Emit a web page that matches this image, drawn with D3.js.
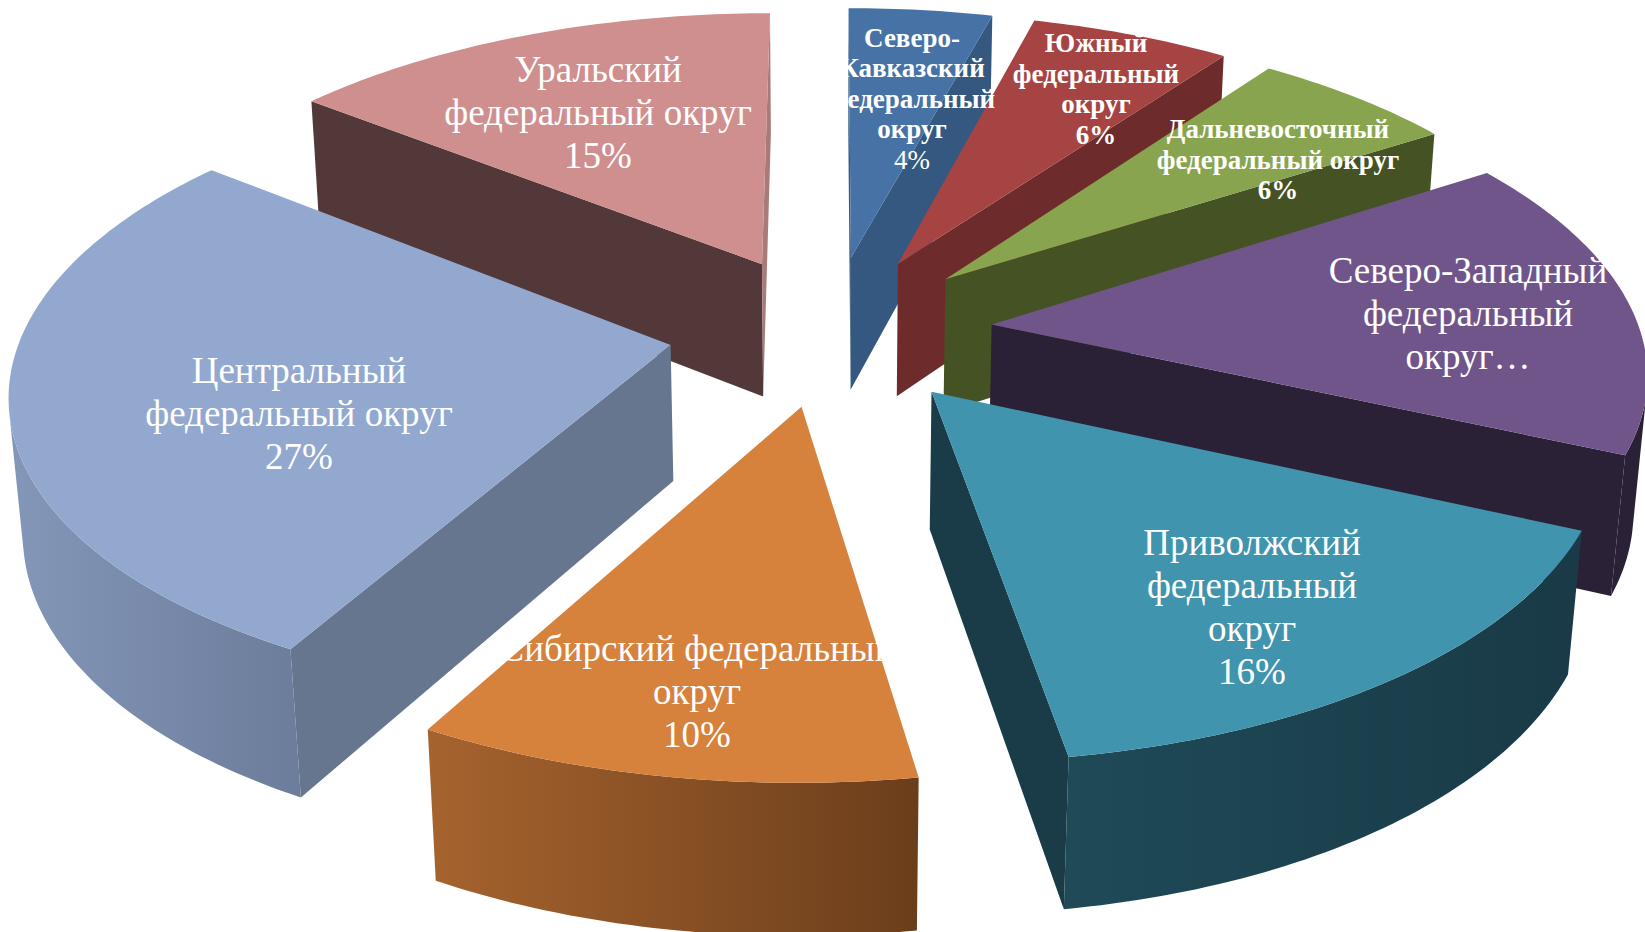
<!DOCTYPE html>
<html>
<head>
<meta charset="utf-8">
<script src="https://cdn.jsdelivr.net/npm/d3@7"></script>
<style>
  html, body { margin: 0; padding: 0; background: #fff; overflow: hidden; }
  svg { display: block; }
  text { font-family: "Liberation Serif", serif; fill: #fff; text-anchor: middle; }
</style>
</head>
<body>
<svg id="chart" width="1645" height="932"></svg>
<script>
var districts = ["Северо-Кавказский", "Южный", "Дальневосточный", "Северо-Западный", "Приволжский", "Сибирский", "Центральный", "Уральский"];
var shares = [4.16, 5.79, 5.95, 15.85, 15.75, 10.53, 27.62, 14.35];
var labelLines = [
    ["Северо-", "Кавказский", "федеральный", "округ", "4%"],
    ["Южный", "федеральный", "округ", "6%"],
    ["Дальневосточный", "федеральный округ", "6%"],
    ["Северо-Западный", "федеральный", "округ…"],
    ["Приволжский", "федеральный", "округ", "16%"],
    ["Сибирский федеральный", "округ", "10%"],
    ["Центральный", "федеральный округ", "27%"],
    ["Уральский", "федеральный округ", "15%"]
];

// Colours per slice
var topColors  = ["#4672a6", "#a64443", "#89a44e", "#70558b", "#4094ad", "#d6813c", "#93a8cf", "#cf8f8e"];
var sideColors = ["#34587f", "#6d2c2b", "#455223", "#2b2137", "#1a3c48", "#6b3e1b", "#66768f", "#533839"];
var endColors  = ["#34587f", "#6d2c2b", "#455223", "#2b2137", "#1a3c48", "#6b3e1b", "#66768f", "#a87a79"];
var wallLeft   = ["#34587f", "#6d2c2b", "#455223", "#2b2137", "#1f4a58", "#a6632e", "#8497b8", "#a87a79"];
var wallRight  = ["#34587f", "#6d2c2b", "#455223", "#2b2137", "#193a46", "#6b3e1b", "#6c7c9b", "#a87a79"];

// Label centre, font size and weight
var labelPlace = [
    {x: 912, y: 99, size: 27, bold: true},
    {x: 1096, y: 89, size: 27, bold: true},
    {x: 1278, y: 160, size: 27, bold: true},
    {x: 1468, y: 314, size: 37},
    {x: 1252, y: 607, size: 37},
    {x: 697, y: 692, size: 37},
    {x: 299, y: 414, size: 37},
    {x: 598, y: 113, size: 37}
];

// Camera for the tilted pie
var cx = 830.5, cy = 330,
    dist = 6.5,
    focal = 648 * dist,
    tilt = 27.75 * Math.PI / 180,
    thick = 0.24,
    explode = 0.25;

function project(X, Y, Z) {
    var w = dist - Y * Math.cos(tilt) + Z * Math.sin(tilt);
    var v = Y * Math.sin(tilt) + Z * Math.cos(tilt);
    return [cx + focal * X / w, cy + focal * v / w];
}

function area(points) {
    var s = 0;
    points.forEach(function(p, i) {
        var q = points[(i + 1) % points.length];
        s += p[0] * q[1] - q[0] * p[1];
    });
    return s;
}

var pie = d3.pie().sort(null).value(function(d) { return d; });
var line = d3.line().curve(d3.curveLinearClosed);
var svg = d3.select("#chart");
var defs = svg.append("defs");

var arcs = pie(shares);
arcs.forEach(function(d, i) {
    d.colorIndex = i;
    d.mid = (d.startAngle + d.endAngle) / 2;
});
// far slices first so the nearer ones cover them
arcs.sort(function(a, b) { return d3.ascending(-Math.cos(a.mid), -Math.cos(b.mid)); });

var layers = svg.selectAll("g.slice").data(arcs).enter().append("g").attr("class", "slice");

layers.each(function(d) {
    var g = d3.select(this);
    var i = d.colorIndex;
    var ox = explode * Math.sin(d.mid), oy = -explode * Math.cos(d.mid);
    var rim = function(a, z) { return project(ox + Math.sin(a), oy - Math.cos(a), z); };
    var apex = function(z) { return project(ox, oy, z); };

    var steps = Math.max(12, Math.round((d.endAngle - d.startAngle) * 60));
    var angles = d3.range(steps + 1).map(function(k) { return d.startAngle + (d.endAngle - d.startAngle) * k / steps; });

    // radial walls, only the ones facing the viewer
    var startWall = [apex(0), rim(d.startAngle, 0), rim(d.startAngle, thick), apex(thick)];
    var endWall = [rim(d.endAngle, 0), apex(0), apex(thick), rim(d.endAngle, thick)];
    if (area(startWall) < 0) g.append("path").attr("d", line(startWall)).attr("fill", sideColors[i]);
    if (area(endWall) < 0) g.append("path").attr("d", line(endWall)).attr("fill", endColors[i]);

    // outer wall: the part of the rim that faces the viewer, one path with a left to right gradient
    var visible = d3.pairs(angles).filter(function(p) {
        return area([rim(p[0], 0), rim(p[1], 0), rim(p[1], thick), rim(p[0], thick)]) < 0;
    });
    if (visible.length) {
        var from = visible.map(function(p) { return p[0]; }).concat(visible[visible.length - 1][1]);
        var wall = from.map(function(a) { return rim(a, 0); })
            .concat(from.slice().reverse().map(function(a) { return rim(a, thick); }));
        var xr = d3.extent(wall, function(p) { return p[0]; });
        var grad = defs.append("linearGradient").attr("id", "wall" + i)
            .attr("gradientUnits", "userSpaceOnUse")
            .attr("x1", xr[0]).attr("x2", xr[1]).attr("y1", 0).attr("y2", 0);
        grad.append("stop").attr("offset", 0).attr("stop-color", wallLeft[i]);
        grad.append("stop").attr("offset", 1).attr("stop-color", wallRight[i]);
        g.append("path").attr("d", line(wall)).attr("fill", "url(#wall" + i + ")");
    }

    var top = [apex(0)].concat(angles.map(function(a) { return rim(a, 0); }));
    g.append("path").attr("d", line(top)).attr("fill", topColors[i]);
});

// Labels go over every slice, white on white where they run off
labelLines.forEach(function(lines, i) {
    var place = labelPlace[i];
    var step = place.size * 1.165;
    if (place.bold) step = 30.5;
    var t = svg.append("text").attr("data-district", districts[i]);
    lines.forEach(function(s, k) {
        t.append("tspan")
            .attr("x", place.x)
            .attr("y", place.y + (k - (lines.length - 1) / 2) * step + place.size * 0.33)
            .attr("font-size", place.size)
            .attr("font-weight", place.bold && !(i === 0 && k === lines.length - 1) ? "bold" : "normal")
            .text(s);
    });
});
</script>
</body>
</html>
